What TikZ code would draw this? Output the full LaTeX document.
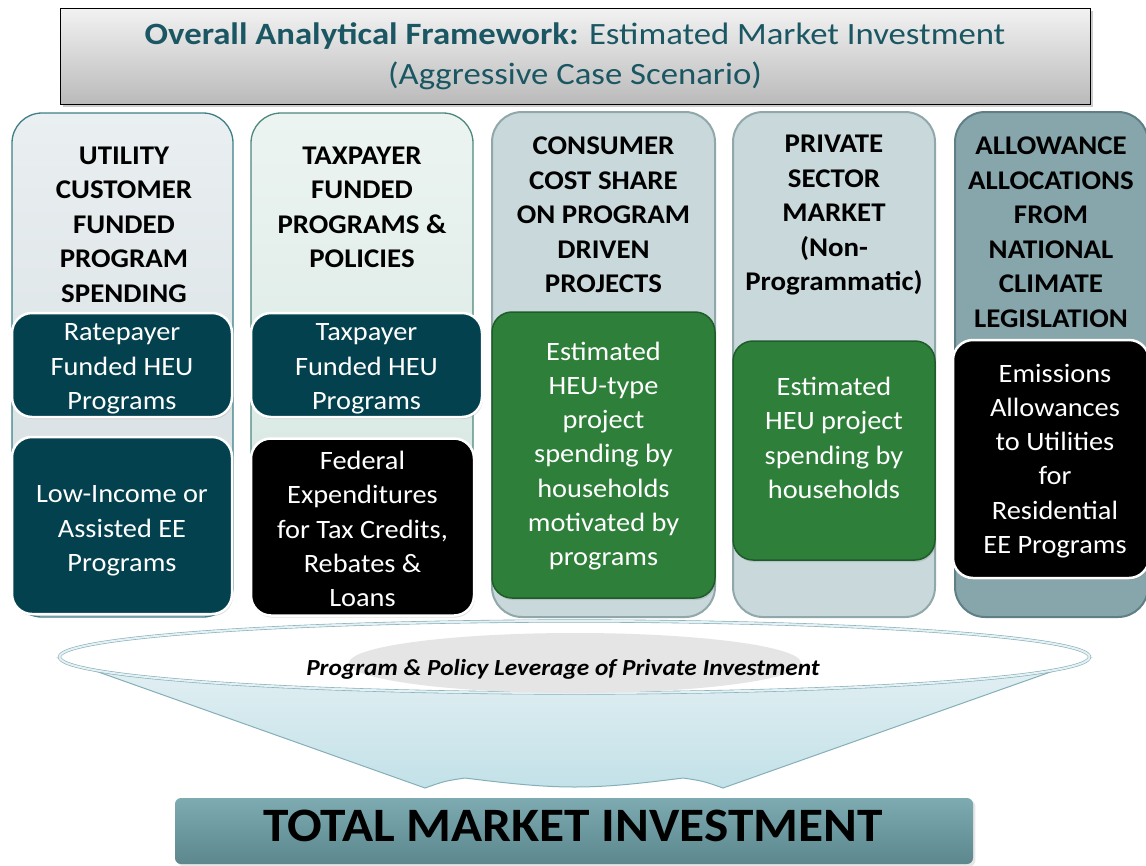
\documentclass[tikz,border=0pt]{standalone}
\usepackage{fontspec}
\setmainfont{Carlito}[FakeStretch=1.07]
\newfontfamily\titlefont{Carlito}[FakeStretch=1.12]
\newfontfamily\leverfont{Carlito}[FakeStretch=1.1]
\usetikzlibrary{shapes,shadows,positioning}
\definecolor{titleteal}{HTML}{1B5763}
\definecolor{darkteal}{HTML}{03414F}
\definecolor{hgreen}{HTML}{2E7F3A}
\definecolor{hgreenline}{HTML}{1F5C29}
\definecolor{utiltop}{HTML}{EAEFF1}
\definecolor{utilbot}{HTML}{D2DCDF}
\definecolor{utilline}{HTML}{3D7F86}
\definecolor{taxtop}{HTML}{ECF4F1}
\definecolor{taxbot}{HTML}{D3E5DF}
\definecolor{taxline}{HTML}{4C887C}
\definecolor{graycol}{HTML}{C8D8DB}
\definecolor{graycolline}{HTML}{91A8AB}
\definecolor{allowcol}{HTML}{87A6AB}
\definecolor{allowline}{HTML}{5E7F85}
\definecolor{funneltop}{HTML}{E4F0F3}
\definecolor{funnelbot}{HTML}{C2E1E8}
\definecolor{funnelline}{HTML}{84AFB8}
\definecolor{totaltop}{HTML}{7DABB1}
\definecolor{totalbot}{HTML}{5B878D}
\begin{document}
\begin{tikzpicture}[x=1pt,y=-1pt,semithick]
\tikzstyle{column}=[draw,rounded corners=30pt,line width=1.3pt,inner sep=0pt]
\tikzstyle{head}=[align=center,font=\fontsize{27}{34.5}\selectfont\bfseries,text=black]
\tikzstyle{inbox}=[draw=white,line width=2.5pt,rounded corners=20pt,align=center,text=white,
  font=\fontsize{26.5}{34.3}\selectfont,inner sep=0pt,drop shadow={opacity=0.25,shadow xshift=1pt,shadow yshift=-2pt}]
\tikzstyle{tealbox}=[inbox,fill=darkteal]
\tikzstyle{blackbox}=[inbox,fill=black]
\tikzstyle{greenbox}=[inbox,fill=hgreen,draw=hgreenline,line width=1.5pt]
\useasboundingbox (0,0) rectangle (1146,865);
\clip (0,0) rectangle (1146,865);
% title
\node[draw=black,line width=1pt,top color=white!95!black,bottom color=black!27,minimum width=1030,minimum height=96,
  align=center,text=titleteal,font=\titlefont\fontsize{31}{40}\selectfont,
  drop shadow={opacity=0.4,shadow xshift=3pt,shadow yshift=-3pt}] (title) at (575,56)
  {\textbf{Overall Analytical Framework:} Estimated Market Investment\\(Aggressive Case Scenario)};
% columns
\node[column,draw=utilline,top color=utiltop,bottom color=utilbot,minimum width=221,minimum height=504] (util) at (122.5,365) {};
\node[column,draw=taxline,top color=taxtop,bottom color=taxbot,minimum width=222,minimum height=502] (tax) at (362,364) {};
\node[column,draw=graycolline,fill=graycol,line width=2pt,minimum width=223,minimum height=505] (cons) at (603.5,364.5) {};
\node[column,draw=graycolline,fill=graycol,line width=2pt,minimum width=202,minimum height=505] (priv) at (834,364.5) {};
\node[column,draw=allowline,fill=allowcol,line width=2pt,minimum width=193,minimum height=505] (allow) at (1051.5,364.5) {};
\node[head] (utilhead) at (124,224.5) {UTILITY\\CUSTOMER\\FUNDED\\PROGRAM\\SPENDING};
\node[head] (taxhead) at (362,207.5) {TAXPAYER\\FUNDED\\PROGRAMS \&\\POLICIES};
\node[head] (conshead) at (603.5,215) {CONSUMER\\COST SHARE\\ON PROGRAM\\DRIVEN\\PROJECTS};
\node[head] (privhead) at (834,215.5) {PRIVATE\\SECTOR\\MARKET\\(Non-\\Programmatic)};
\node[head] (allowhead) at (1051,232) {ALLOWANCE\\ALLOCATIONS\\FROM\\NATIONAL\\CLIMATE\\LEGISLATION};
% boxes inside
\node[tealbox,minimum width=220,minimum height=104] (rate) at (122,365) {};
\node[tealbox,minimum width=231,minimum height=104] (taxheu) at (366.5,365) {};
\node[tealbox,minimum width=220,minimum height=177] (lowinc) at (122,525.5) {};
\node[blackbox,minimum width=223,minimum height=177] (federal) at (362.5,527) {};
\node[greenbox,minimum width=223,minimum height=286] (heutype) at (603.5,455) {};
\node[greenbox,minimum width=202,minimum height=219] (heuproj) at (834,450.5) {};
\node[blackbox,minimum width=196,minimum height=238] (emis) at (1051,459) {};
\tikzstyle{boxtext}=[align=center,text=white,font=\fontsize{26.5}{34.3}\selectfont]
\node[boxtext] at (122,369) {Ratepayer\\Funded HEU\\Programs};
\node[boxtext] at (366.5,369) {Taxpayer\\Funded HEU\\Programs};
\node[boxtext] at (122,531) {Low-Income or\\Assisted EE\\Programs};
\node[boxtext] at (362.5,529) {Federal\\Expenditures\\for Tax Credits,\\Rebates \&\\Loans};
\node[boxtext] at (603.5,456) {Estimated\\HEU-type\\project\\spending by\\households\\motivated by\\programs};
\node[boxtext] at (834,438) {Estimated\\HEU project\\spending by\\households};
\node[boxtext] at (1055,461) {Emissions\\Allowances\\to Utilities\\for\\Residential\\EE Programs};
% funnel
\coordinate (fl) at (59,658);
\coordinate (fr) at (1090,658);
\coordinate (bl) at (445,781);
\coordinate (br) at (703,781);
\path[draw=funnelline,top color=funneltop,bottom color=funnelbot,line width=1pt]
  (fl) -- ([xshift=-20,yshift=-7]bl) .. controls (bl) .. ([xshift=20,yshift=3]bl)
  .. controls (560,790) and (590,790) .. ([xshift=-20,yshift=3]br) .. controls (br) .. ([xshift=20,yshift=-7]br) -- (fr) -- cycle;
\node[ellipse,draw=funnelline,double=funneltop,double distance=2pt,fill=white,minimum width=1030,minimum height=72] (rim) at (574.5,657) {};
\node[ellipse,fill=black!10,minimum width=452,minimum height=60,inner sep=0pt] (glow) at (575,663) {};
\node[font=\leverfont\fontsize{23}{26}\selectfont\bfseries\itshape] (lever) at (563,669) {Program \& Policy Leverage of Private Investment};
% total
\node[rounded corners=6pt,top color=totaltop,bottom color=totalbot,minimum width=798,minimum height=66,
  drop shadow={opacity=0.2}] (total) at (574,831) {};
\node[font=\fontsize{48}{52}\selectfont\bfseries] (totaltext) at (573,826) {TOTAL MARKET INVESTMENT};
\end{tikzpicture}
\end{document}
